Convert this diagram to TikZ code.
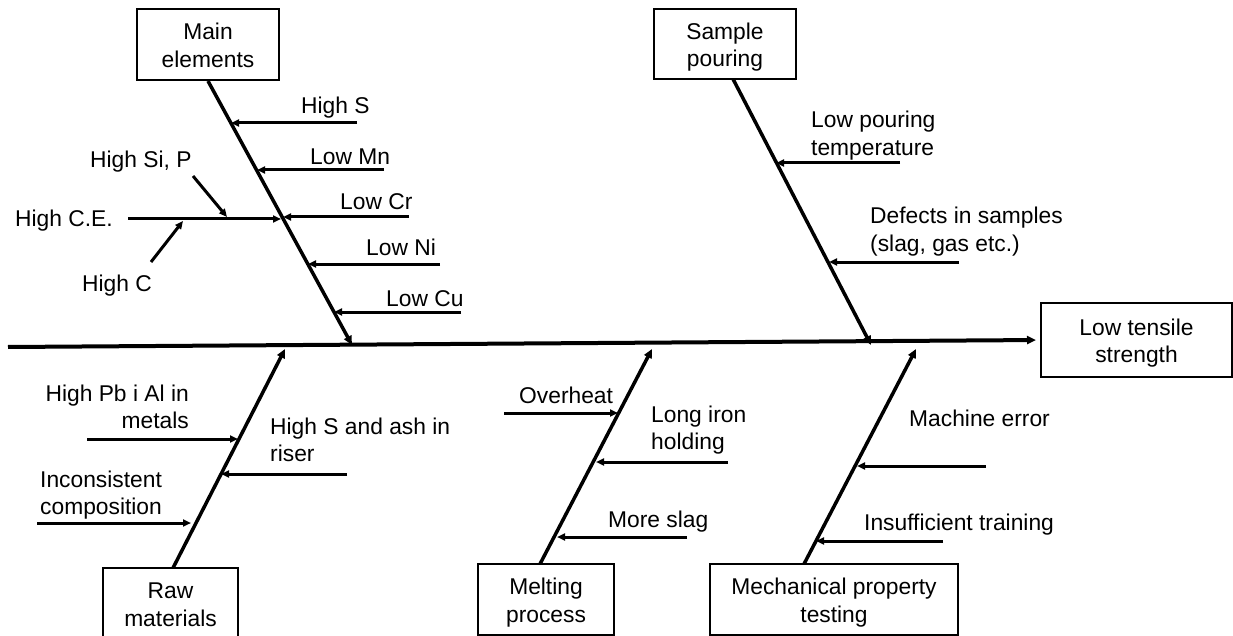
\documentclass[tikz,border=0pt]{standalone}
\usepackage{fontspec}
\setmainfont{Liberation Sans}
\usetikzlibrary{arrows.meta}
\newcommand{\cstack}[1]{\begin{tabular}[t]{@{}c@{}}#1\end{tabular}}
\newcommand{\lstack}[1]{\begin{tabular}[t]{@{}l@{}}#1\end{tabular}}
\newcommand{\rstack}[1]{\begin{tabular}[t]{@{}r@{}}#1\end{tabular}}
\begin{document}
\begin{tikzpicture}[x=1pt,y=-1pt,
  every node/.style={inner sep=0pt, font=\fontsize{22.8}{27.5}\selectfont},
  catbox/.style={draw, line width=2pt, minimum height=71pt, text height=26pt, text depth=35.75pt},
  spinearrow/.style={line width=4pt, -{Triangle[length=9pt,width=8pt]}},
  bonearrow/.style={line width=3.5pt, -{Triangle[length=9pt,width=8pt]}},
  subarrow/.style={line width=3pt, -{Triangle[length=8pt,width=7pt]}},
  lbl/.style={anchor=base west},
  rlbl/.style={anchor=base east}]
\useasboundingbox (0,0) rectangle (1233,636);

% category boxes
\node[catbox, minimum width=142pt] (me) at (208,44.5) {\cstack{Main\\elements}};
\node[catbox, minimum width=142pt, minimum height=70pt] (sp) at (725,44) {\cstack{Sample\\pouring}};
\node[catbox, minimum width=191pt, minimum height=74pt] (eff) at (1136.5,340) {\cstack{Low tensile\\strength}};
\node[catbox, minimum width=135pt] (rm) at (170.5,603.5) {\cstack{Raw\\materials}};
\node[catbox, minimum width=136pt] (mp) at (546,599.5) {\cstack{Melting\\process}};
\node[catbox, minimum width=248pt] (mt) at (834,599.5) {\cstack{Mechanical property\\testing}};

% spine
\coordinate (s0) at (8,347);
\draw[spinearrow, shorten >=4pt] (s0) -- (eff.west);

% bones
\coordinate (meT) at (352,345);
\coordinate (spS) at (733,79);
\coordinate (spT) at (871,345);
\coordinate (rmS) at (173,568);
\coordinate (rmT) at (285,349);
\coordinate (mpS) at (540,564);
\coordinate (mpT) at (652,349);
\coordinate (mtS) at (804,564);
\coordinate (mtT) at (916,349);
\draw[bonearrow] (me.south) -- (meT);
\draw[bonearrow] (spS) -- (spT);
\draw[bonearrow] (rmS) -- (rmT);
\draw[bonearrow] (mpS) -- (mpT);
\draw[bonearrow] (mtS) -- (mtT);

% main elements causes
\node[lbl] (hs) at (301,114) {High S};
\node[lbl] (lmn) at (310,165) {Low Mn};
\node[lbl] (lcr) at (340,210) {Low Cr};
\node[lbl] (lni) at (366,255) {Low Ni};
\node[lbl] (lcu) at (386,306) {Low Cu};
\node[lbl] (hce) at (15,227) {High C.E.};
\node[lbl] (hsp) at (90,168) {High Si, P};
\node[lbl] (hc) at (82,291) {High C};
\coordinate (hsA) at (357,123);  \coordinate (hsB) at (231,123);
\coordinate (lmnA) at (384,170); \coordinate (lmnB) at (257,170);
\coordinate (lcrA) at (409,217); \coordinate (lcrB) at (283,217);
\coordinate (lniA) at (440,264); \coordinate (lniB) at (308,264);
\coordinate (lcuA) at (461,312); \coordinate (lcuB) at (334,312);
\coordinate (hceA) at (128,219); \coordinate (hceB) at (281,219);
\coordinate (hspA) at (193,176); \coordinate (hspB) at (227,217);
\coordinate (hcA) at (151,262);  \coordinate (hcB) at (183,221);
\draw[subarrow] (hsA) -- (hsB);
\draw[subarrow] (lmnA) -- (lmnB);
\draw[subarrow] (lcrA) -- (lcrB);
\draw[subarrow] (lniA) -- (lniB);
\draw[subarrow] (lcuA) -- (lcuB);
\draw[subarrow] (hceA) -- (hceB);
\draw[subarrow] (hspA) -- (hspB);
\draw[subarrow] (hcA) -- (hcB);

% sample pouring causes
\node[lbl] (lpt) at (811,128) {\lstack{Low pouring\\temperature}};
\node[lbl] (dis) at (870,224) {\lstack{Defects in samples\\(slag, gas etc.)}};
\coordinate (lptA) at (900,163); \coordinate (lptB) at (776,163);
\coordinate (disA) at (959,262); \coordinate (disB) at (829,262);
\draw[subarrow] (lptA) -- (lptB);
\draw[subarrow] (disA) -- (disB);

% raw materials causes
\node[rlbl] (pb) at (189,401) {\rstack{High Pb i Al in\\metals}};
\node[lbl] (inc) at (40,487) {\lstack{Inconsistent\\composition}};
\node[lbl] (ash) at (270,434) {\lstack{High S and ash in\\riser}};
\coordinate (pbA) at (87,439);   \coordinate (pbB) at (238,439);
\coordinate (incA) at (37,523);  \coordinate (incB) at (191,523);
\coordinate (ashA) at (347,474); \coordinate (ashB) at (221,474);
\draw[subarrow] (pbA) -- (pbB);
\draw[subarrow] (incA) -- (incB);
\draw[subarrow] (ashA) -- (ashB);

% melting process causes
\node[lbl] (ovh) at (519,403) {Overheat};
\node[lbl] (lih) at (651,422) {\lstack{Long iron\\holding}};
\node[lbl] (msl) at (608,527) {More slag};
\coordinate (ovhA) at (504,413); \coordinate (ovhB) at (618,413);
\coordinate (lihA) at (728,462); \coordinate (lihB) at (596,462);
\coordinate (mslA) at (687,537); \coordinate (mslB) at (557,537);
\draw[subarrow] (ovhA) -- (ovhB);
\draw[subarrow] (lihA) -- (lihB);
\draw[subarrow] (mslA) -- (mslB);

% testing causes
\node[lbl] (mer) at (909,426) {Machine error};
\node[lbl] (ist) at (864,530) {Insufficient training};
\coordinate (merA) at (986,466); \coordinate (merB) at (857,466);
\coordinate (istA) at (943,541); \coordinate (istB) at (816,541);
\draw[subarrow] (merA) -- (merB);
\draw[subarrow] (istA) -- (istB);
\end{tikzpicture}
\end{document}
